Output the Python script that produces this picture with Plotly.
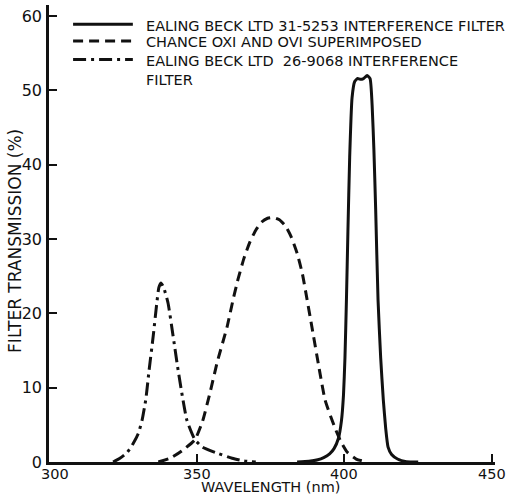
import plotly.graph_objects as go

# Ealing Beck Ltd 31-5253 interference filter
wl_5253 = [384, 388, 391, 393, 395, 396.5, 398, 399, 399.7, 400.2, 400.7, 401.2, 401.8,
           402.6, 403.5, 404.5, 405.3, 406.5, 407.7, 408.7, 409.4, 410, 410.6, 411.4,
           412.3, 413.2, 414, 414.8, 416, 418, 421, 425]
tr_5253 = [0, 0.1, 0.3, 0.6, 1.1, 1.8, 3.2, 5.5, 9, 14, 21.8, 31, 41,
           49, 51.2, 51.6, 51.5, 51.6, 52, 51.6, 48, 42, 34, 21.8,
           14, 8.3, 4.5, 2, 1, 0.4, 0.05, 0]

# Chance OX1 and OV1 superimposed
wl_chance = [337, 341, 345, 349.4, 352, 354.5, 357, 360.3, 362.3, 364, 366, 368,
             370, 372, 374, 375.9, 378, 380, 382, 384, 385.8, 387.4, 389, 391.5,
             393.5, 396.8, 399, 401, 404, 407.7]
tr_chance = [0, 0.5, 1.5, 3.0, 5.5, 9.3, 13.5, 18.2, 21.8, 24.6, 27.4, 29.6,
             31.2, 32.3, 32.8, 32.9, 32.6, 31.8, 30.3, 28.1, 25.3, 21.8, 18.2, 12.5,
             8.3, 4.6, 2.6, 1.3, 0.4, 0]

# Ealing Beck Ltd 26-9068 interference filter
wl_9068 = [321.7, 324, 326.5, 328.5, 330.2, 331.5, 332.8, 333.9, 335.3, 336.5, 337.2,
           337.9, 338.8, 340.3, 342, 343.7, 345.3, 346.7, 349.4, 352, 356.9, 362,
           366, 370]
tr_9068 = [0, 0.5, 1.3, 2.5, 3.8, 5.6, 8.5, 12.4, 17, 21.4, 23.5,
           24.1, 23.5, 21.4, 17, 12.4, 8.5, 5.6, 3.0, 2.0, 1.2, 0.5,
           0.15, 0]

series = [
    ("EALING BECK LTD 31-5253 INTERFERENCE FILTER", wl_5253, tr_5253, "solid"),
    ("CHANCE OXI AND OVI SUPERIMPOSED", wl_chance, tr_chance, "10px,6px"),
    ("EALING BECK LTD  26-9068 INTERFERENCE<br>FILTER", wl_9068, tr_9068, "13px,5px,3px,5px"),
]

x_ticks = [300, 350, 400, 450]
y_ticks = [0, 10, 20, 30, 40, 50, 60]
x_title = "WAVELENGTH (nm)"
y_title = "FILTER TRANSMISSION (%)"

FONT = "DejaVu Sans"
INK = "#111111"

fig = go.Figure()
for name, x, y, dash in series:
    fig.add_trace(go.Scatter(
        x=x, y=y, mode="lines", name=name, showlegend=False,
        line=dict(color=INK, width=3, dash=dash, shape="spline", smoothing=0.5),
    ))

# Key in the upper left: line sample followed by its label
key_rows = [0.958, 0.921, 0.881]
for (name, _, _, dash), yk in zip(series, key_rows):
    fig.add_shape(type="line", xref="paper", yref="paper",
                  x0=0.054, x1=0.188, y0=yk, y1=yk,
                  line=dict(color=INK, width=3, dash=dash))
    fig.add_annotation(xref="paper", yref="paper", x=0.212, y=yk + 0.019,
                       text=name, showarrow=False, xanchor="left", yanchor="top",
                       align="left", font=dict(family=FONT, size=14.5, color=INK))

# Wavelength labels set close under the axis, the first one nudged clear of the y labels
for i, xv in enumerate(x_ticks):
    fig.add_annotation(xref="x", yref="paper", x=xv, y=-0.004, text=str(xv),
                       showarrow=False, xanchor="center", yanchor="top",
                       xshift=6 if i == 0 else 0,
                       font=dict(family=FONT, size=14.5, color=INK))

# Axis titles
fig.add_annotation(xref="paper", yref="paper", x=0.497, y=-0.0766, text=x_title,
                   showarrow=False, xanchor="center", yanchor="bottom",
                   font=dict(family=FONT, size=14.5, color=INK))
fig.add_annotation(xref="paper", yref="paper", x=-0.076, y=0.484, text=y_title,
                   showarrow=False, xanchor="center", yanchor="middle", textangle=-90,
                   font=dict(family=FONT, size=17, color=INK))

fig.update_layout(
    width=506, height=497,
    margin=dict(l=49, r=11, t=5, b=35),
    paper_bgcolor="white", plot_bgcolor="white",
    font=dict(family=FONT, color=INK),
    xaxis=dict(
        range=[300, 451], tickvals=x_ticks, ticks="inside", ticklen=8,
        tickwidth=1.5, tickcolor=INK, showline=True, linewidth=2.5, linecolor=INK,
        showgrid=False, zeroline=False, showticklabels=False, automargin=False,
    ),
    yaxis=dict(
        range=[0, 61.5], tickvals=y_ticks, ticks="inside", ticklen=8,
        tickwidth=1.5, tickcolor=INK, showline=True, linewidth=2.5, linecolor=INK,
        showgrid=False, zeroline=False, tickfont=dict(size=16),
        ticklabelstandoff=1, automargin=False,
    ),
)

fig.write_html("out.html")
